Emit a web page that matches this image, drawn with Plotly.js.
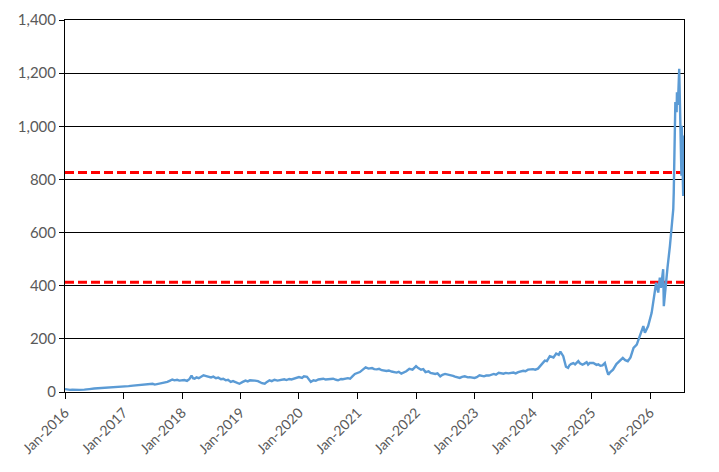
<!DOCTYPE html>
<html>
<head>
<meta charset="utf-8">
<script src="https://cdn.plot.ly/plotly-3.0.1.min.js"></script>
<style>html,body{margin:0;padding:0;background:#fff;}#chart{width:719px;height:472px;}</style>
</head>
<body>
<div id="chart"></div>
<script>
const dates = [
"2016-01-01","2016-01-15","2016-02-01","2016-02-15","2016-03-01","2016-03-15","2016-04-01","2016-05-01","2016-05-15","2016-06-01",
"2016-07-01","2016-08-01","2016-09-01","2016-10-01","2016-11-01","2016-12-01","2017-01-01","2017-02-01","2017-03-01","2017-04-01",
"2017-05-01","2017-06-01","2017-07-01","2017-07-15","2017-08-01","2017-09-01","2017-10-01","2017-10-15","2017-11-01","2017-11-15",
"2017-12-01","2017-12-15","2018-01-01","2018-01-15","2018-02-01","2018-02-15","2018-03-01","2018-03-10","2018-03-20","2018-04-01",
"2018-04-15","2018-05-01","2018-05-15","2018-06-01","2018-06-15","2018-07-01","2018-07-15","2018-08-01","2018-08-15","2018-09-01",
"2018-09-15","2018-10-01","2018-10-15","2018-11-01","2018-11-15","2018-12-01","2018-12-25","2019-01-15","2019-02-01","2019-02-15",
"2019-03-01","2019-04-01","2019-04-20","2019-05-15","2019-06-01","2019-06-15","2019-07-01","2019-07-15","2019-08-01","2019-08-20",
"2019-09-01","2019-10-01","2019-10-15","2019-11-01","2019-11-15","2019-12-01","2020-01-01","2020-01-20","2020-02-01","2020-02-20",
"2020-03-15","2020-04-01","2020-04-15","2020-05-01","2020-06-01","2020-06-15","2020-07-01","2020-07-15","2020-08-01","2020-08-20",
"2020-09-01","2020-09-20","2020-10-01","2020-11-01","2020-11-15","2020-12-01","2020-12-15","2021-01-15","2021-02-01","2021-02-20",
"2021-03-10","2021-04-01","2021-04-15","2021-05-01","2021-05-15","2021-06-01","2021-07-01","2021-07-15","2021-08-01","2021-09-01",
"2021-09-15","2021-10-01","2021-11-01","2021-11-20","2021-12-10","2022-01-01","2022-01-15","2022-02-01","2022-02-15","2022-03-01",
"2022-03-20","2022-04-01","2022-05-01","2022-05-15","2022-06-01","2022-06-15","2022-07-01","2022-08-01","2022-08-20","2022-09-01",
"2022-10-01","2022-10-15","2022-11-01","2022-11-20","2022-12-01","2023-01-01","2023-01-15","2023-02-01","2023-03-01","2023-03-15",
"2023-04-01","2023-05-01","2023-05-15","2023-06-01","2023-07-01","2023-07-15","2023-08-01","2023-09-01","2023-09-15","2023-10-01",
"2023-11-01","2023-11-15","2023-12-01","2024-01-01","2024-01-15","2024-02-01","2024-03-01","2024-03-15","2024-03-28","2024-04-15",
"2024-05-08","2024-05-25","2024-06-10","2024-06-20","2024-07-08","2024-07-25","2024-08-07","2024-08-15","2024-08-25","2024-09-09",
"2024-09-20","2024-10-01","2024-10-10","2024-10-20","2024-11-05","2024-11-15","2024-12-01","2024-12-10","2024-12-20","2025-01-12",
"2025-01-25","2025-02-01","2025-02-12","2025-02-25","2025-03-10","2025-03-25","2025-04-07","2025-04-15","2025-04-28","2025-05-15",
"2025-06-05","2025-06-28","2025-07-15","2025-07-30","2025-08-15","2025-09-01","2025-09-10","2025-09-20","2025-10-10","2025-10-30",
"2025-11-20","2025-11-30","2025-12-20","2026-01-11","2026-02-01","2026-02-08","2026-02-21","2026-03-03","2026-03-10","2026-03-24",
"2026-03-28","2026-04-14","2026-04-20","2026-05-05","2026-05-16","2026-05-22","2026-05-26","2026-05-29","2026-06-05","2026-06-08",
"2026-06-16","2026-06-18","2026-06-24","2026-07-02","2026-07-06","2026-07-10","2026-07-16","2026-07-18","2026-07-22","2026-07-27",
"2026-07-29","2026-07-31"
];
const prices = [
11,9,8,9,8,9,8,9,11,11,
13,14,15,16,17,18,19,22,24,26,
27,29,31,28,30,33,38,42,47,44,
46,43,44,45,42,48,62,52,50,55,
52,58,63,60,57,55,58,52,54,48,
50,44,46,38,41,36,31,38,43,40,
44,43,41,33,31,38,44,41,46,43,
45,48,45,49,47,50,56,53,59,57,
38,44,42,47,50,47,48,51,50,46,
44,49,48,52,50,60,68,75,82,93,
88,90,86,85,87,82,79,81,77,73,
76,69,78,87,84,97,90,84,86,75,
78,72,68,70,59,65,68,65,61,58,
53,57,59,55,56,53,56,63,59,62,
62,68,65,72,69,72,70,73,70,75,
80,78,84,86,84,88,110,118,116,135,
130,145,140,152,135,95,91,100,105,109,
104,113,116,108,103,106,112,103,109,109,
106,102,104,99,100,109,80,65,75,84,
105,119,128,120,116,130,150,166,178,210,
248,223,248,298,392,411,374,430,392,462,
323,449,468,549,612,640,688,751,940,1091,
1053,1128,1080,1216,1103,1002,814,1002,877,738,
965,760
];
const thresholdLevels = [413, 826];
const yTicks = [0,200,400,600,800,1000,1200,1400];

const font = {family: "Lato, 'Open Sans', sans-serif", size: 15, color: "#595959"};
const traces = [];
thresholdLevels.forEach(v => {
  traces.push({
    x: ["2016-01-01", "2026-08-01"], y: [v, v], type: "scatter", mode: "lines",
    line: {color: "#FF0000", width: 3, dash: "9px,4px"}, showlegend: false
  });
});
traces.push({
  x: dates, y: prices, type: "scatter", mode: "lines",
  line: {color: "#5B9BD5", width: 2.4}, hoverinfo: "x+y", showlegend: false
});

const layout = {
  width: 719, height: 472,
  margin: {l: 65, r: 35, t: 20, b: 80},
  paper_bgcolor: "#fff", plot_bgcolor: "#fff",
  font: font,
  showlegend: false,
  xaxis: {
    type: "date", range: ["2016-01-01", "2026-08-01"],
    tick0: "2016-01-01", dtick: "M12", tickformat: "%b-%Y", tickangle: -45,
    showgrid: false, zeroline: false,
    showline: true, linecolor: "#000", linewidth: 1, mirror: true,
    ticks: "outside", ticklen: 6, tickcolor: "#000", tickwidth: 1,
    tickfont: {family: font.family, size: 14, color: "#595959"}
  },
  yaxis: {
    range: [0, 1400], tickvals: yTicks, tickformat: ",d",
    showgrid: true, gridcolor: "#000", gridwidth: 1, zeroline: false,
    showline: true, linecolor: "#000", linewidth: 1, mirror: true,
    ticks: "outside", ticklen: 5, tickcolor: "#000", tickwidth: 1,
    tickfont: {family: font.family, size: 15, color: "#595959"}
  }
};
Plotly.newPlot("chart", traces, layout, {displayModeBar: false, staticPlot: true});
</script>
</body>
</html>
